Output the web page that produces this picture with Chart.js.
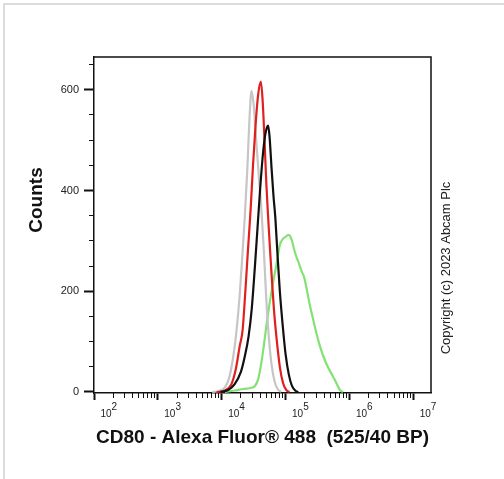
<!DOCTYPE html>
<html lang="en">
<head>
<meta charset="UTF-8">
<title>CD80 - Alexa Fluor 488 histogram</title>
<script src="https://cdn.jsdelivr.net/npm/chart.js@4.4.0/dist/chart.umd.min.js"></script>
<style>
    body { margin: 0; background: #fff; }
    #frame { position: absolute; left: 3px; top: 3px; width: 600px; height: 600px;
             border-top: 2px solid #dcdcdc; border-left: 2px solid #dcdcdc; }
    #histo { position: absolute; left: 0; top: 0; }
</style>
</head>
<body>
<div id="frame"></div>
<canvas id="histo" width="504" height="479"></canvas>
<script>
// readings: x = log10(fluorescence), y = counts
var grayLog    = [3.85, 3.95, 4.05, 4.12, 4.18, 4.23, 4.28, 4.32, 4.36, 4.40, 4.43, 4.467, 4.50, 4.54, 4.58, 4.62, 4.66, 4.70, 4.74, 4.78, 4.83, 4.88, 4.93];
var grayCounts = [0, 2, 9, 30, 70, 120, 190, 265, 345, 440, 530, 598, 570, 500, 430, 365, 280, 180, 105, 55, 20, 5, 0];

var redLog    = [3.92, 4.05, 4.15, 4.22, 4.28, 4.327, 4.37, 4.41, 4.452, 4.49, 4.53, 4.57, 4.613, 4.64, 4.67, 4.70, 4.73, 4.76, 4.79, 4.82, 4.86, 4.91, 4.96, 5.01, 5.06];
var redCounts = [0, 3, 15, 45, 90, 123, 200, 280, 361, 450, 530, 590, 616, 580, 500, 410, 340, 275, 215, 160, 105, 50, 18, 4, 0];

var blackLog    = [3.98, 4.10, 4.20, 4.30, 4.36, 4.42, 4.47, 4.52, 4.56, 4.60, 4.64, 4.68, 4.71, 4.728, 4.75, 4.78, 4.81, 4.84, 4.87, 4.91, 4.96, 5.00, 5.05, 5.10, 5.16, 5.20];
var blackCounts = [0, 4, 15, 40, 70, 110, 165, 250, 325, 400, 465, 510, 526, 529, 505, 445, 390, 345, 280, 200, 125, 75, 35, 12, 2, 0];

var greenLog    = [4.05, 4.20, 4.34, 4.45, 4.52, 4.57, 4.61, 4.65, 4.70, 4.75, 4.80, 4.86, 4.91, 4.96, 5.00, 5.04, 5.07, 5.10, 5.13, 5.17, 5.21, 5.25, 5.29, 5.33, 5.38, 5.43, 5.48, 5.54, 5.60, 5.66, 5.72, 5.78, 5.85, 5.90];
var greenCounts = [0, 3, 6, 8, 12, 25, 50, 83, 132, 176, 214, 255, 292, 304, 308, 312, 310, 300, 285, 268, 255, 240, 228, 205, 172, 145, 118, 90, 68, 50, 36, 22, 4, 0];

var xMajorExp = [2, 3, 4, 5, 6, 7];
// exponent line on top, shifted right with spaces, "10" below it
var xTickLabels = [['      2', '10'], ['      3', '10'], ['      4', '10'],
                   ['      5', '10'], ['      6', '10'], ['      7', '10']];
var yMajor = [0, 200, 400, 600];
var yMinor = [50, 100, 150, 250, 300, 350, 450, 500, 550, 650];

function points(logs, counts) {
    return logs.map(function (v, i) { return { x: Math.pow(10, v), y: counts[i] }; });
}

var xMajor = xMajorExp.map(function (e) { return Math.pow(10, e); });
var xMinor = [];
for (var e = 2; e < 7; e++) {
    for (var k = 2; k <= 9; k++) xMinor.push(k * Math.pow(10, e));
}

function series(label, color, logs, counts) {
    return {
        label: label,
        data: points(logs, counts),
        borderColor: color,
        borderWidth: 2.2,
        pointRadius: 0,
        fill: false,
        cubicInterpolationMode: 'monotone'
    };
}

var boxPlugin = {
    id: 'box',
    afterDraw: function (chart) {
        var a = chart.chartArea, ctx = chart.ctx;
        ctx.save();
        ctx.strokeStyle = '#111';
        ctx.lineWidth = 1.5;
        ctx.beginPath();
        ctx.moveTo(a.left, a.top);
        ctx.lineTo(a.right, a.top);
        ctx.lineTo(a.right, a.bottom);
        ctx.stroke();

        ctx.fillStyle = '#111';
        ctx.textAlign = 'center';
        ctx.textBaseline = 'middle';
        ctx.translate(37, 200);
        ctx.rotate(-Math.PI / 2);
        ctx.font = 'bold 19px "Liberation Sans", Arial, sans-serif';
        ctx.fillText('Counts', 0, 0);
        ctx.restore();

        ctx.save();
        ctx.fillStyle = '#222';
        ctx.textAlign = 'center';
        ctx.textBaseline = 'middle';
        ctx.translate(446, 268);
        ctx.rotate(-Math.PI / 2);
        ctx.font = '13px "Liberation Sans", Arial, sans-serif';
        ctx.fillText('Copyright (c) 2023 Abcam Plc', 0, 0);
        ctx.restore();
    }
};

new Chart(document.getElementById('histo'), {
    type: 'line',
    data: {
        datasets: [
            series('Black', '#111111', blackLog, blackCounts),
            series('Red', '#e0201e', redLog, redCounts),
            series('Gray', '#c6c6c6', grayLog, grayCounts),
            series('Green', '#84e274', greenLog, greenCounts)
        ]
    },
    options: {
        responsive: false,
        animation: false,
        layout: { padding: { top: 57, right: 73, left: 0, bottom: 0 } },
        plugins: { legend: { display: false }, tooltip: { enabled: false } },
        scales: {
            x: {
                type: 'logarithmic',
                position: 'bottom',
                weight: 1,
                bounds: 'data',
                min: 100,
                max: Math.pow(10, 7.277),
                afterBuildTicks: function (s) { s.ticks = xMajor.map(function (v) { return { value: v }; }); },
                afterFit: function (s) { s.height = 86; },
                grid: { drawOnChartArea: false, tickLength: 7, tickWidth: 2, tickColor: '#111' },
                border: { display: true, color: '#111', width: 1.5 },
                ticks: {
                    autoSkip: false,
                    maxRotation: 0,
                    padding: 4,
                    labelOffset: 12,
                    color: '#222',
                    font: { family: '"Liberation Sans", Arial, sans-serif', size: 10, lineHeight: 0.7 },
                    callback: function (v, i) { return xTickLabels[i]; }
                },
                title: {
                    display: true,
                    text: 'CD80 - Alexa Fluor\u00ae 488  (525/40 BP)',
                    color: '#111',
                    font: { family: '"Liberation Sans", Arial, sans-serif', size: 19, weight: 'bold' },
                    padding: { top: 0, bottom: 30 }
                }
            },
            xMinor: {
                type: 'logarithmic',
                position: 'bottom',
                weight: 0,
                bounds: 'data',
                min: 100,
                max: Math.pow(10, 7.277),
                afterBuildTicks: function (s) { s.ticks = xMinor.map(function (v) { return { value: v }; }); },
                afterFit: function (s) { s.height = 0; },
                grid: { drawOnChartArea: false, tickLength: 5, tickWidth: 1, tickColor: '#111' },
                border: { display: false },
                ticks: { display: false, autoSkip: false }
            },
            y: {
                type: 'linear',
                position: 'left',
                weight: 1,
                min: -2,
                max: 665,
                afterBuildTicks: function (s) { s.ticks = yMajor.map(function (v) { return { value: v }; }); },
                afterFit: function (s) { s.width = 94; },
                grid: { drawOnChartArea: false, tickLength: 10, tickWidth: 2, tickColor: '#111' },
                border: { display: true, color: '#111', width: 1.5 },
                ticks: {
                    padding: 5,
                    color: '#222',
                    font: { family: '"Liberation Sans", Arial, sans-serif', size: 11 }
                }
            },
            yMinor: {
                type: 'linear',
                position: 'left',
                weight: 0,
                min: -2,
                max: 665,
                afterBuildTicks: function (s) { s.ticks = yMinor.map(function (v) { return { value: v }; }); },
                afterFit: function (s) { s.width = 0; },
                grid: { drawOnChartArea: false, tickLength: 5, tickWidth: 1, tickColor: '#111' },
                border: { display: false },
                ticks: { display: false }
            }
        }
    },
    plugins: [boxPlugin]
});
</script>
</body>
</html>
